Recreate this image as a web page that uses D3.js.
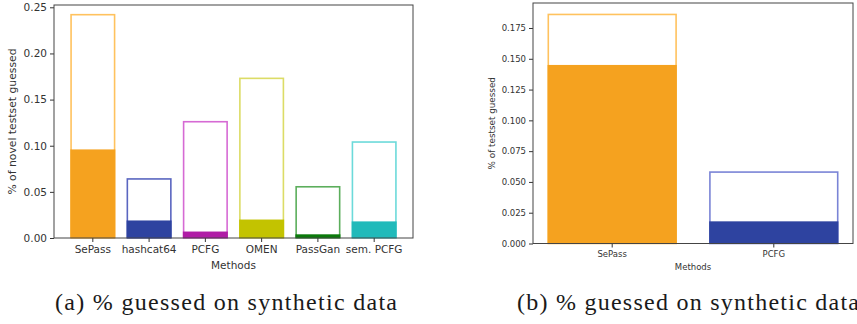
<!DOCTYPE html>
<html>
<head>
<meta charset="utf-8">
<script src="https://cdn.jsdelivr.net/npm/d3@7"></script>
<style>
  html, body { margin: 0; padding: 0; background: #fff; }
  svg { display: block; }
  .tick text { fill: #333; }
  .tick line { stroke: #333; }
</style>
</head>
<body>
<div id="chart"></div>
<script>
// (a) novel testset, six methods
const methodsA = ['SePass', 'hashcat64', 'PCFG', 'OMEN', 'PassGan', 'sem. PCFG']
const totalA = [0.242, 0.064, 0.126, 0.173, 0.0555, 0.104]
const guessedA = [0.096, 0.019, 0.007, 0.020, 0.004, 0.018]
const ticksA = [0, 0.05, 0.10, 0.15, 0.20, 0.25]

// (b) testset, two methods
const methodsB = ['SePass', 'PCFG']
const totalB = [0.186, 0.058]
const guessedB = [0.145, 0.018]
const ticksB = [0, 0.025, 0.05, 0.075, 0.1, 0.125, 0.15, 0.175]

const fillColors = {
  'SePass': '#f5a21f', 'hashcat64': '#2e43a0', 'PCFG': '#b01ca6',
  'OMEN': '#c3c300', 'PassGan': '#0b7a0b', 'sem. PCFG': '#20baba'
}
const edgeColors = {
  'SePass': '#ffc25e', 'hashcat64': '#5a66c0', 'PCFG': '#d66ad4',
  'OMEN': '#dcdc66', 'PassGan': '#5cae5c', 'sem. PCFG': '#6cdada'
}
const fillB = { 'SePass': '#f5a21f', 'PCFG': '#2e43a0' }
const edgeB = { 'SePass': '#ffc25e', 'PCFG': '#7a84d6' }

const W = 857, H = 324
const svg = d3.select('#chart').append('svg').attr('width', W).attr('height', H)
  .style('overflow', 'hidden')

function panel({ cats, total, guessed, ticks, fmt, box, yMax, pad, font, yLabel, labelX, fill, edge, catY, methodsY }) {
  const g = svg.append('g')
  const x = d3.scaleBand().domain(cats).range([box.left, box.right])
    .paddingInner(0.2).paddingOuter(pad)
  const y = d3.scaleLinear().domain([0, yMax]).range([box.bottom, box.top])

  // outline bars (total)
  g.selectAll(null).data(cats).join('rect')
    .attr('x', d => x(d) + 0.75).attr('width', x.bandwidth() - 1.5)
    .attr('y', (d, i) => y(total[i]))
    .attr('height', (d, i) => box.bottom - y(total[i]))
    .attr('fill', 'none').attr('stroke', d => edge[d]).attr('stroke-width', 1.6)

  // filled bars (guessed)
  g.selectAll(null).data(cats).join('rect')
    .attr('x', d => x(d)).attr('width', x.bandwidth())
    .attr('y', (d, i) => y(guessed[i]))
    .attr('height', (d, i) => box.bottom - y(guessed[i]))
    .attr('fill', d => fill[d])

  const yAxis = g.append('g').attr('transform', `translate(${box.left},0)`)
    .call(d3.axisLeft(y).tickValues(ticks).tickFormat(d3.format(fmt)).tickSize(4).tickPadding(3))
  yAxis.select('.domain').remove()
  yAxis.selectAll('text').style('font-family', 'DejaVu Sans').style('font-size', font + 'px')

  const xAxis = g.append('g').attr('transform', `translate(0,${box.bottom})`)
    .call(d3.axisBottom(x).tickSize(4).tickPadding(0))
  xAxis.select('.domain').remove()
  xAxis.selectAll('text').attr('y', catY - box.bottom).attr('dy', null)
    .style('font-family', 'DejaVu Sans').style('font-size', font + 'px')

  // frame
  g.append('rect').attr('x', box.left).attr('y', box.top)
    .attr('width', box.right - box.left).attr('height', box.bottom - box.top)
    .attr('fill', 'none').attr('stroke', '#444').attr('stroke-width', 1)

  g.append('text').attr('x', (box.left + box.right) / 2).attr('y', methodsY)
    .attr('text-anchor', 'middle').attr('fill', '#333')
    .style('font-family', 'DejaVu Sans').style('font-size', font + 'px').text('Methods')

  g.append('text')
    .attr('transform', `translate(${labelX},${(box.top + box.bottom) / 2}) rotate(-90)`)
    .attr('text-anchor', 'middle').attr('dy', '0.35em').attr('fill', '#333')
    .style('font-family', 'DejaVu Sans').style('font-size', (font + 0.3) + 'px').text(yLabel)
}

panel({
  cats: methodsA, total: totalA, guessed: guessedA, ticks: ticksA, fmt: '.2f',
  box: { left: 54, right: 413, top: 5, bottom: 238 }, yMax: 0.2525, pad: 0.29,
  font: 10.5, yLabel: '% of novel testset guessed', labelX: 12,
  fill: fillColors, edge: edgeColors, catY: 253, methodsY: 269
})

panel({
  cats: methodsB, total: totalB, guessed: guessedB, ticks: ticksB, fmt: '.3f',
  box: { left: 533, right: 853, top: 3, bottom: 243.5 }, yMax: 0.1953, pad: 0.09,
  font: 8.5, yLabel: '% of testset guessed', labelX: 492,
  fill: fillB, edge: edgeB, catY: 257, methodsY: 270
})

// captions
const captions = [
  { x: 55, text: '(a) % guessed on synthetic data' },
  { x: 517, text: '(b) % guessed on synthetic data' }
]
svg.selectAll(null).data(captions).join('text')
  .attr('x', d => d.x).attr('y', 310)
  .attr('fill', '#1a1a1a')
  .attr('textLength', 342).attr('lengthAdjust', 'spacing')
  .style('font-family', 'Liberation Serif').style('font-size', '24px')
  .text(d => d.text)
</script>
</body>
</html>
